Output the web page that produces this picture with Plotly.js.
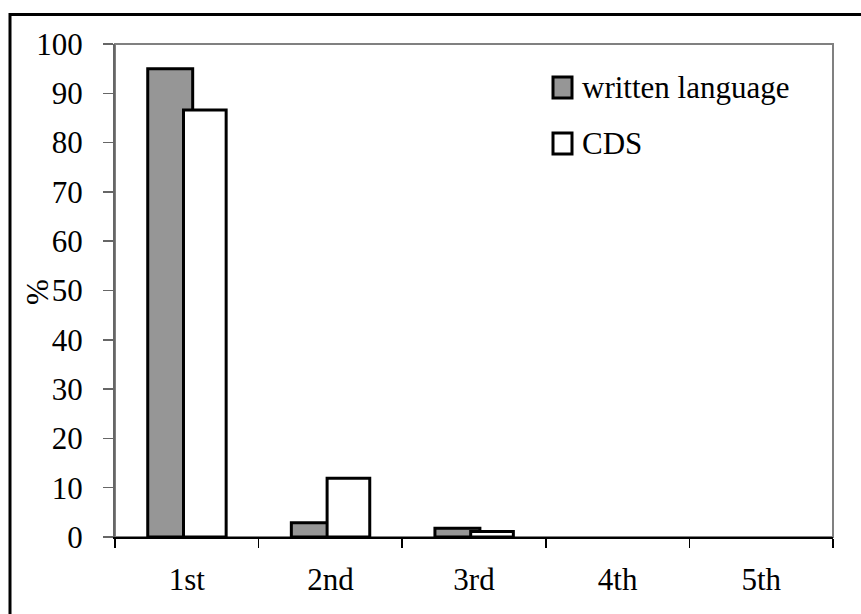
<!DOCTYPE html>
<html>
<head>
<meta charset="utf-8">
<script src="https://cdn.plot.ly/plotly-3.0.1.min.js"></script>
<style>html,body{margin:0;padding:0;background:#fff;}#chart{width:861px;height:614px;}</style>
</head>
<body>
<div id="chart"></div>
<script>
// ---- data ----
var categories = ["1st", "2nd", "3rd", "4th", "5th"];
var seriesNames = ["written language", "CDS"];
var writtenLanguage = [95.0, 2.9, 1.8, 0, 0];
var cds = [86.6, 11.9, 1.1, 0, 0];
var yTickValues = [0, 10, 20, 30, 40, 50, 60, 70, 80, 90, 100];
var yAxisLabel = "%";

// ---- styling ----
var FONT = "Liberation Serif, Times New Roman, serif";
var fills = ["#969696", "#ffffff"];
var offsets = [-0.272, -0.023];
var widths = [0.313, 0.297];
var values = [writtenLanguage, cds];

var W = 861, H = 614;
var mL = 115, mR = 28, mT = 44, mB = 77;
var pw = W - mL - mR, ph = H - mT - mB;
function px2x(px) { return (px - mL) / pw; }
function py2y(py) { return 1 - (py - mT) / ph; }

var traces = values.map(function (v, i) {
  return {
    type: "bar",
    name: seriesNames[i],
    x: categories,
    y: v,
    offset: offsets[i],
    width: widths[i],
    marker: { color: fills[i],
      line: { color: "#000", width: v.map(function (d) { return d === 0 ? 0 : 3; }) } },
    showlegend: false,
    hoverinfo: "x+y+name"
  };
});

var shapes = [
  // plot area frame (gray)
  { type: "rect", xref: "paper", yref: "paper", x0: 0, x1: 1, y0: 0, y1: 1,
    line: { color: "#808080", width: 2 }, layer: "below" },
  // outer chart border
  { type: "rect", xref: "paper", yref: "paper",
    x0: px2x(10), x1: px2x(W + 20), y0: py2y(H + 20), y1: py2y(14.5),
    line: { color: "#000", width: 3 } }
];
var annotations = [
  { xref: "paper", yref: "paper", x: px2x(37), y: py2y(292), text: yAxisLabel,
    textangle: -90, showarrow: false, xanchor: "center", yanchor: "middle",
    font: { family: FONT, size: 31, color: "#000" } }
];
// custom legend
var legendTop = [77, 133];
seriesNames.forEach(function (name, i) {
  var t = legendTop[i];
  shapes.push({ type: "rect", xref: "paper", yref: "paper",
    x0: px2x(553), x1: px2x(572), y0: py2y(t + 21), y1: py2y(t),
    fillcolor: fills[i], line: { color: "#000", width: 3 } });
  annotations.push({ xref: "paper", yref: "paper", x: px2x(580), y: py2y(t + 10),
    text: name, showarrow: false, xanchor: "left", yanchor: "middle",
    font: { family: FONT, size: 31, color: "#000" } });
});

var layout = {
  width: W, height: H,
  margin: { l: mL, r: mR, t: mT, b: mB, pad: 0 },
  paper_bgcolor: "#fff", plot_bgcolor: "#fff",
  barmode: "overlay",
  font: { family: FONT, size: 31, color: "#000" },
  xaxis: {
    type: "category",
    range: [-0.5, 4.5],
    showline: true, linecolor: "#000", linewidth: 2,
    ticks: "outside", tickson: "boundaries", ticklen: 9, tickcolor: "#000", tickwidth: 1.5,
    showgrid: false, zeroline: false,
    tickfont: { family: FONT, size: 31, color: "#000" },
    ticklabelstandoff: 14
  },
  yaxis: {
    range: [0, 100],
    tickvals: yTickValues,
    showline: true, linecolor: "#666", linewidth: 2,
    ticks: "outside", ticklen: 10, tickcolor: "#666", tickwidth: 1.5,
    showgrid: false, zeroline: false,
    tickfont: { family: FONT, size: 31, color: "#000" },
    ticklabelstandoff: 14
  },
  shapes: shapes,
  annotations: annotations
};

Plotly.newPlot("chart", traces, layout, { displayModeBar: false, staticPlot: true });
</script>
</body>
</html>
